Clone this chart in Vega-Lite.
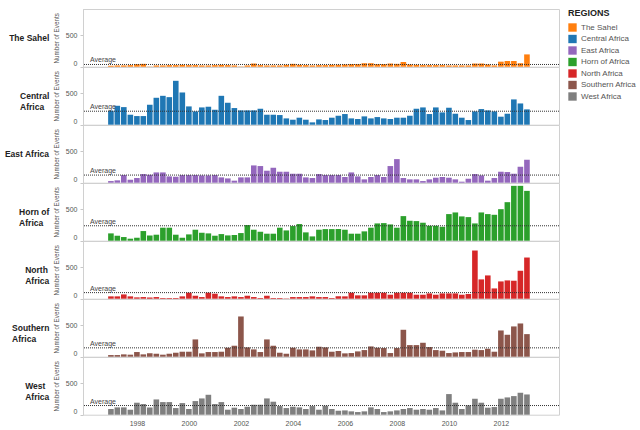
{
  "$schema": "https://vega.github.io/schema/vega-lite/v6.json",
  "background": "white",
  "padding": {"left": 4, "top": 8, "right": 0, "bottom": 0},
  "bounds": "flush",
  "config": {
    "font": "Liberation Sans",
    "view": {"stroke": "#d0d0d0"},
    "header": {"labelLineHeight": 11}
  },
  "data": {
    "values": [
      {"region":"The Sahel","quarter":"1997-01-01","events":15},{"region":"The Sahel","quarter":"1997-04-01","events":20},{"region":"The Sahel","quarter":"1997-07-01","events":20},{"region":"The Sahel","quarter":"1997-10-01","events":25},
      {"region":"The Sahel","quarter":"1998-01-01","events":40},{"region":"The Sahel","quarter":"1998-04-01","events":45},{"region":"The Sahel","quarter":"1998-07-01","events":5},{"region":"The Sahel","quarter":"1998-10-01","events":20},
      {"region":"The Sahel","quarter":"1999-01-01","events":20},{"region":"The Sahel","quarter":"1999-04-01","events":25},{"region":"The Sahel","quarter":"1999-07-01","events":25},{"region":"The Sahel","quarter":"1999-10-01","events":30},
      {"region":"The Sahel","quarter":"2000-01-01","events":25},{"region":"The Sahel","quarter":"2000-04-01","events":25},{"region":"The Sahel","quarter":"2000-07-01","events":20},{"region":"The Sahel","quarter":"2000-10-01","events":20},
      {"region":"The Sahel","quarter":"2001-01-01","events":25},{"region":"The Sahel","quarter":"2001-04-01","events":30},{"region":"The Sahel","quarter":"2001-07-01","events":25},{"region":"The Sahel","quarter":"2001-10-01","events":20},
      {"region":"The Sahel","quarter":"2002-01-01","events":5},{"region":"The Sahel","quarter":"2002-04-01","events":20},{"region":"The Sahel","quarter":"2002-07-01","events":50},{"region":"The Sahel","quarter":"2002-10-01","events":25},
      {"region":"The Sahel","quarter":"2003-01-01","events":20},{"region":"The Sahel","quarter":"2003-04-01","events":20},{"region":"The Sahel","quarter":"2003-07-01","events":20},{"region":"The Sahel","quarter":"2003-10-01","events":30},
      {"region":"The Sahel","quarter":"2004-01-01","events":45},{"region":"The Sahel","quarter":"2004-04-01","events":30},{"region":"The Sahel","quarter":"2004-07-01","events":25},{"region":"The Sahel","quarter":"2004-10-01","events":20},
      {"region":"The Sahel","quarter":"2005-01-01","events":25},{"region":"The Sahel","quarter":"2005-04-01","events":25},{"region":"The Sahel","quarter":"2005-07-01","events":30},{"region":"The Sahel","quarter":"2005-10-01","events":30},
      {"region":"The Sahel","quarter":"2006-01-01","events":35},{"region":"The Sahel","quarter":"2006-04-01","events":40},{"region":"The Sahel","quarter":"2006-07-01","events":40},{"region":"The Sahel","quarter":"2006-10-01","events":55},
      {"region":"The Sahel","quarter":"2007-01-01","events":55},{"region":"The Sahel","quarter":"2007-04-01","events":40},{"region":"The Sahel","quarter":"2007-07-01","events":40},{"region":"The Sahel","quarter":"2007-10-01","events":50},
      {"region":"The Sahel","quarter":"2008-01-01","events":45},{"region":"The Sahel","quarter":"2008-04-01","events":75},{"region":"The Sahel","quarter":"2008-07-01","events":35},{"region":"The Sahel","quarter":"2008-10-01","events":30},
      {"region":"The Sahel","quarter":"2009-01-01","events":25},{"region":"The Sahel","quarter":"2009-04-01","events":25},{"region":"The Sahel","quarter":"2009-07-01","events":25},{"region":"The Sahel","quarter":"2009-10-01","events":25},
      {"region":"The Sahel","quarter":"2010-01-01","events":20},{"region":"The Sahel","quarter":"2010-04-01","events":20},{"region":"The Sahel","quarter":"2010-07-01","events":20},{"region":"The Sahel","quarter":"2010-10-01","events":20},
      {"region":"The Sahel","quarter":"2011-01-01","events":50},{"region":"The Sahel","quarter":"2011-04-01","events":50},{"region":"The Sahel","quarter":"2011-07-01","events":35},{"region":"The Sahel","quarter":"2011-10-01","events":20},
      {"region":"The Sahel","quarter":"2012-01-01","events":80},{"region":"The Sahel","quarter":"2012-04-01","events":90},{"region":"The Sahel","quarter":"2012-07-01","events":90},{"region":"The Sahel","quarter":"2012-10-01","events":55},
      {"region":"The Sahel","quarter":"2013-01-01","events":195},

      {"region":"Central Africa","quarter":"1997-01-01","events":221},{"region":"Central Africa","quarter":"1997-04-01","events":300},{"region":"Central Africa","quarter":"1997-07-01","events":279},{"region":"Central Africa","quarter":"1997-10-01","events":158},
      {"region":"Central Africa","quarter":"1998-01-01","events":137},{"region":"Central Africa","quarter":"1998-04-01","events":137},{"region":"Central Africa","quarter":"1998-07-01","events":316},{"region":"Central Africa","quarter":"1998-10-01","events":427},
      {"region":"Central Africa","quarter":"1999-01-01","events":458},{"region":"Central Africa","quarter":"1999-04-01","events":437},{"region":"Central Africa","quarter":"1999-07-01","events":696},{"region":"Central Africa","quarter":"1999-10-01","events":511},
      {"region":"Central Africa","quarter":"2000-01-01","events":290},{"region":"Central Africa","quarter":"2000-04-01","events":211},{"region":"Central Africa","quarter":"2000-07-01","events":274},{"region":"Central Africa","quarter":"2000-10-01","events":285},
      {"region":"Central Africa","quarter":"2001-01-01","events":237},{"region":"Central Africa","quarter":"2001-04-01","events":458},{"region":"Central Africa","quarter":"2001-07-01","events":348},{"region":"Central Africa","quarter":"2001-10-01","events":264},
      {"region":"Central Africa","quarter":"2002-01-01","events":227},{"region":"Central Africa","quarter":"2002-04-01","events":227},{"region":"Central Africa","quarter":"2002-07-01","events":227},{"region":"Central Africa","quarter":"2002-10-01","events":253},
      {"region":"Central Africa","quarter":"2003-01-01","events":158},{"region":"Central Africa","quarter":"2003-04-01","events":158},{"region":"Central Africa","quarter":"2003-07-01","events":153},{"region":"Central Africa","quarter":"2003-10-01","events":100},
      {"region":"Central Africa","quarter":"2004-01-01","events":79},{"region":"Central Africa","quarter":"2004-04-01","events":111},{"region":"Central Africa","quarter":"2004-07-01","events":79},{"region":"Central Africa","quarter":"2004-10-01","events":37},
      {"region":"Central Africa","quarter":"2005-01-01","events":84},{"region":"Central Africa","quarter":"2005-04-01","events":74},{"region":"Central Africa","quarter":"2005-07-01","events":111},{"region":"Central Africa","quarter":"2005-10-01","events":142},
      {"region":"Central Africa","quarter":"2006-01-01","events":169},{"region":"Central Africa","quarter":"2006-04-01","events":100},{"region":"Central Africa","quarter":"2006-07-01","events":90},{"region":"Central Africa","quarter":"2006-10-01","events":132},
      {"region":"Central Africa","quarter":"2007-01-01","events":100},{"region":"Central Africa","quarter":"2007-04-01","events":121},{"region":"Central Africa","quarter":"2007-07-01","events":100},{"region":"Central Africa","quarter":"2007-10-01","events":90},
      {"region":"Central Africa","quarter":"2008-01-01","events":111},{"region":"Central Africa","quarter":"2008-04-01","events":111},{"region":"Central Africa","quarter":"2008-07-01","events":142},{"region":"Central Africa","quarter":"2008-10-01","events":253},
      {"region":"Central Africa","quarter":"2009-01-01","events":274},{"region":"Central Africa","quarter":"2009-04-01","events":169},{"region":"Central Africa","quarter":"2009-07-01","events":274},{"region":"Central Africa","quarter":"2009-10-01","events":195},
      {"region":"Central Africa","quarter":"2010-01-01","events":269},{"region":"Central Africa","quarter":"2010-04-01","events":174},{"region":"Central Africa","quarter":"2010-07-01","events":111},{"region":"Central Africa","quarter":"2010-10-01","events":74},
      {"region":"Central Africa","quarter":"2011-01-01","events":211},{"region":"Central Africa","quarter":"2011-04-01","events":248},{"region":"Central Africa","quarter":"2011-07-01","events":227},{"region":"Central Africa","quarter":"2011-10-01","events":211},
      {"region":"Central Africa","quarter":"2012-01-01","events":127},{"region":"Central Africa","quarter":"2012-04-01","events":174},{"region":"Central Africa","quarter":"2012-07-01","events":401},{"region":"Central Africa","quarter":"2012-10-01","events":337},
      {"region":"Central Africa","quarter":"2013-01-01","events":243},

      {"region":"East Africa","quarter":"1997-01-01","events":26},{"region":"East Africa","quarter":"1997-04-01","events":37},{"region":"East Africa","quarter":"1997-07-01","events":121},{"region":"East Africa","quarter":"1997-10-01","events":47},
      {"region":"East Africa","quarter":"1998-01-01","events":74},{"region":"East Africa","quarter":"1998-04-01","events":137},{"region":"East Africa","quarter":"1998-07-01","events":126},{"region":"East Africa","quarter":"1998-10-01","events":163},
      {"region":"East Africa","quarter":"1999-01-01","events":163},{"region":"East Africa","quarter":"1999-04-01","events":100},{"region":"East Africa","quarter":"1999-07-01","events":95},{"region":"East Africa","quarter":"1999-10-01","events":121},
      {"region":"East Africa","quarter":"2000-01-01","events":121},{"region":"East Africa","quarter":"2000-04-01","events":121},{"region":"East Africa","quarter":"2000-07-01","events":116},{"region":"East Africa","quarter":"2000-10-01","events":116},
      {"region":"East Africa","quarter":"2001-01-01","events":121},{"region":"East Africa","quarter":"2001-04-01","events":84},{"region":"East Africa","quarter":"2001-07-01","events":68},{"region":"East Africa","quarter":"2001-10-01","events":32},
      {"region":"East Africa","quarter":"2002-01-01","events":84},{"region":"East Africa","quarter":"2002-04-01","events":84},{"region":"East Africa","quarter":"2002-07-01","events":274},{"region":"East Africa","quarter":"2002-10-01","events":264},
      {"region":"East Africa","quarter":"2003-01-01","events":190},{"region":"East Africa","quarter":"2003-04-01","events":237},{"region":"East Africa","quarter":"2003-07-01","events":174},{"region":"East Africa","quarter":"2003-10-01","events":174},
      {"region":"East Africa","quarter":"2004-01-01","events":142},{"region":"East Africa","quarter":"2004-04-01","events":142},{"region":"East Africa","quarter":"2004-07-01","events":84},{"region":"East Africa","quarter":"2004-10-01","events":74},
      {"region":"East Africa","quarter":"2005-01-01","events":137},{"region":"East Africa","quarter":"2005-04-01","events":121},{"region":"East Africa","quarter":"2005-07-01","events":121},{"region":"East Africa","quarter":"2005-10-01","events":121},
      {"region":"East Africa","quarter":"2006-01-01","events":90},{"region":"East Africa","quarter":"2006-04-01","events":163},{"region":"East Africa","quarter":"2006-07-01","events":100},{"region":"East Africa","quarter":"2006-10-01","events":53},
      {"region":"East Africa","quarter":"2007-01-01","events":90},{"region":"East Africa","quarter":"2007-04-01","events":121},{"region":"East Africa","quarter":"2007-07-01","events":90},{"region":"East Africa","quarter":"2007-10-01","events":264},
      {"region":"East Africa","quarter":"2008-01-01","events":374},{"region":"East Africa","quarter":"2008-04-01","events":74},{"region":"East Africa","quarter":"2008-07-01","events":53},{"region":"East Africa","quarter":"2008-10-01","events":53},
      {"region":"East Africa","quarter":"2009-01-01","events":26},{"region":"East Africa","quarter":"2009-04-01","events":53},{"region":"East Africa","quarter":"2009-07-01","events":79},{"region":"East Africa","quarter":"2009-10-01","events":90},
      {"region":"East Africa","quarter":"2010-01-01","events":79},{"region":"East Africa","quarter":"2010-04-01","events":53},{"region":"East Africa","quarter":"2010-07-01","events":16},{"region":"East Africa","quarter":"2010-10-01","events":63},
      {"region":"East Africa","quarter":"2011-01-01","events":137},{"region":"East Africa","quarter":"2011-04-01","events":116},{"region":"East Africa","quarter":"2011-07-01","events":32},{"region":"East Africa","quarter":"2011-10-01","events":74},
      {"region":"East Africa","quarter":"2012-01-01","events":174},{"region":"East Africa","quarter":"2012-04-01","events":169},{"region":"East Africa","quarter":"2012-07-01","events":142},{"region":"East Africa","quarter":"2012-10-01","events":253},
      {"region":"East Africa","quarter":"2013-01-01","events":364},

      {"region":"Horn of Africa","quarter":"1997-01-01","events":116},{"region":"Horn of Africa","quarter":"1997-04-01","events":79},{"region":"Horn of Africa","quarter":"1997-07-01","events":58},{"region":"Horn of Africa","quarter":"1997-10-01","events":32},
      {"region":"Horn of Africa","quarter":"1998-01-01","events":47},{"region":"Horn of Africa","quarter":"1998-04-01","events":153},{"region":"Horn of Africa","quarter":"1998-07-01","events":84},{"region":"Horn of Africa","quarter":"1998-10-01","events":95},
      {"region":"Horn of Africa","quarter":"1999-01-01","events":206},{"region":"Horn of Africa","quarter":"1999-04-01","events":206},{"region":"Horn of Africa","quarter":"1999-07-01","events":95},{"region":"Horn of Africa","quarter":"1999-10-01","events":47},
      {"region":"Horn of Africa","quarter":"2000-01-01","events":100},{"region":"Horn of Africa","quarter":"2000-04-01","events":174},{"region":"Horn of Africa","quarter":"2000-07-01","events":126},{"region":"Horn of Africa","quarter":"2000-10-01","events":116},
      {"region":"Horn of Africa","quarter":"2001-01-01","events":79},{"region":"Horn of Africa","quarter":"2001-04-01","events":105},{"region":"Horn of Africa","quarter":"2001-07-01","events":84},{"region":"Horn of Africa","quarter":"2001-10-01","events":90},
      {"region":"Horn of Africa","quarter":"2002-01-01","events":121},{"region":"Horn of Africa","quarter":"2002-04-01","events":248},{"region":"Horn of Africa","quarter":"2002-07-01","events":174},{"region":"Horn of Africa","quarter":"2002-10-01","events":142},
      {"region":"Horn of Africa","quarter":"2003-01-01","events":111},{"region":"Horn of Africa","quarter":"2003-04-01","events":111},{"region":"Horn of Africa","quarter":"2003-07-01","events":206},{"region":"Horn of Africa","quarter":"2003-10-01","events":163},
      {"region":"Horn of Africa","quarter":"2004-01-01","events":232},{"region":"Horn of Africa","quarter":"2004-04-01","events":264},{"region":"Horn of Africa","quarter":"2004-07-01","events":132},{"region":"Horn of Africa","quarter":"2004-10-01","events":68},
      {"region":"Horn of Africa","quarter":"2005-01-01","events":174},{"region":"Horn of Africa","quarter":"2005-04-01","events":184},{"region":"Horn of Africa","quarter":"2005-07-01","events":184},{"region":"Horn of Africa","quarter":"2005-10-01","events":184},
      {"region":"Horn of Africa","quarter":"2006-01-01","events":174},{"region":"Horn of Africa","quarter":"2006-04-01","events":111},{"region":"Horn of Africa","quarter":"2006-07-01","events":111},{"region":"Horn of Africa","quarter":"2006-10-01","events":148},
      {"region":"Horn of Africa","quarter":"2007-01-01","events":206},{"region":"Horn of Africa","quarter":"2007-04-01","events":274},{"region":"Horn of Africa","quarter":"2007-07-01","events":279},{"region":"Horn of Africa","quarter":"2007-10-01","events":258},
      {"region":"Horn of Africa","quarter":"2008-01-01","events":206},{"region":"Horn of Africa","quarter":"2008-04-01","events":390},{"region":"Horn of Africa","quarter":"2008-07-01","events":316},{"region":"Horn of Africa","quarter":"2008-10-01","events":311},
      {"region":"Horn of Africa","quarter":"2009-01-01","events":285},{"region":"Horn of Africa","quarter":"2009-04-01","events":237},{"region":"Horn of Africa","quarter":"2009-07-01","events":237},{"region":"Horn of Africa","quarter":"2009-10-01","events":221},
      {"region":"Horn of Africa","quarter":"2010-01-01","events":422},{"region":"Horn of Africa","quarter":"2010-04-01","events":448},{"region":"Horn of Africa","quarter":"2010-07-01","events":385},{"region":"Horn of Africa","quarter":"2010-10-01","events":374},
      {"region":"Horn of Africa","quarter":"2011-01-01","events":274},{"region":"Horn of Africa","quarter":"2011-04-01","events":448},{"region":"Horn of Africa","quarter":"2011-07-01","events":422},{"region":"Horn of Africa","quarter":"2011-10-01","events":411},
      {"region":"Horn of Africa","quarter":"2012-01-01","events":500},{"region":"Horn of Africa","quarter":"2012-04-01","events":611},{"region":"Horn of Africa","quarter":"2012-07-01","events":870},{"region":"Horn of Africa","quarter":"2012-10-01","events":870},
      {"region":"Horn of Africa","quarter":"2013-01-01","events":790},

      {"region":"North Africa","quarter":"1997-01-01","events":37},{"region":"North Africa","quarter":"1997-04-01","events":37},{"region":"North Africa","quarter":"1997-07-01","events":68},{"region":"North Africa","quarter":"1997-10-01","events":37},
      {"region":"North Africa","quarter":"1998-01-01","events":21},{"region":"North Africa","quarter":"1998-04-01","events":26},{"region":"North Africa","quarter":"1998-07-01","events":21},{"region":"North Africa","quarter":"1998-10-01","events":26},
      {"region":"North Africa","quarter":"1999-01-01","events":11},{"region":"North Africa","quarter":"1999-04-01","events":11},{"region":"North Africa","quarter":"1999-07-01","events":11},{"region":"North Africa","quarter":"1999-10-01","events":37},
      {"region":"North Africa","quarter":"2000-01-01","events":95},{"region":"North Africa","quarter":"2000-04-01","events":47},{"region":"North Africa","quarter":"2000-07-01","events":26},{"region":"North Africa","quarter":"2000-10-01","events":95},
      {"region":"North Africa","quarter":"2001-01-01","events":79},{"region":"North Africa","quarter":"2001-04-01","events":37},{"region":"North Africa","quarter":"2001-07-01","events":26},{"region":"North Africa","quarter":"2001-10-01","events":37},
      {"region":"North Africa","quarter":"2002-01-01","events":26},{"region":"North Africa","quarter":"2002-04-01","events":47},{"region":"North Africa","quarter":"2002-07-01","events":26},{"region":"North Africa","quarter":"2002-10-01","events":11},
      {"region":"North Africa","quarter":"2003-01-01","events":47},{"region":"North Africa","quarter":"2003-04-01","events":11},{"region":"North Africa","quarter":"2003-07-01","events":11},{"region":"North Africa","quarter":"2003-10-01","events":5},
      {"region":"North Africa","quarter":"2004-01-01","events":26},{"region":"North Africa","quarter":"2004-04-01","events":26},{"region":"North Africa","quarter":"2004-07-01","events":26},{"region":"North Africa","quarter":"2004-10-01","events":37},
      {"region":"North Africa","quarter":"2005-01-01","events":26},{"region":"North Africa","quarter":"2005-04-01","events":26},{"region":"North Africa","quarter":"2005-07-01","events":11},{"region":"North Africa","quarter":"2005-10-01","events":37},
      {"region":"North Africa","quarter":"2006-01-01","events":37},{"region":"North Africa","quarter":"2006-04-01","events":95},{"region":"North Africa","quarter":"2006-07-01","events":53},{"region":"North Africa","quarter":"2006-10-01","events":53},
      {"region":"North Africa","quarter":"2007-01-01","events":95},{"region":"North Africa","quarter":"2007-04-01","events":95},{"region":"North Africa","quarter":"2007-07-01","events":95},{"region":"North Africa","quarter":"2007-10-01","events":63},
      {"region":"North Africa","quarter":"2008-01-01","events":95},{"region":"North Africa","quarter":"2008-04-01","events":95},{"region":"North Africa","quarter":"2008-07-01","events":95},{"region":"North Africa","quarter":"2008-10-01","events":63},
      {"region":"North Africa","quarter":"2009-01-01","events":63},{"region":"North Africa","quarter":"2009-04-01","events":84},{"region":"North Africa","quarter":"2009-07-01","events":63},{"region":"North Africa","quarter":"2009-10-01","events":84},
      {"region":"North Africa","quarter":"2010-01-01","events":84},{"region":"North Africa","quarter":"2010-04-01","events":84},{"region":"North Africa","quarter":"2010-07-01","events":63},{"region":"North Africa","quarter":"2010-10-01","events":74},
      {"region":"North Africa","quarter":"2011-01-01","events":764},{"region":"North Africa","quarter":"2011-04-01","events":306},{"region":"North Africa","quarter":"2011-07-01","events":369},{"region":"North Africa","quarter":"2011-10-01","events":163},
      {"region":"North Africa","quarter":"2012-01-01","events":274},{"region":"North Africa","quarter":"2012-04-01","events":290},{"region":"North Africa","quarter":"2012-07-01","events":285},{"region":"North Africa","quarter":"2012-10-01","events":443},
      {"region":"North Africa","quarter":"2013-01-01","events":653},

      {"region":"Southern Africa","quarter":"1997-01-01","events":26},{"region":"Southern Africa","quarter":"1997-04-01","events":26},{"region":"Southern Africa","quarter":"1997-07-01","events":37},{"region":"Southern Africa","quarter":"1997-10-01","events":32},
      {"region":"Southern Africa","quarter":"1998-01-01","events":74},{"region":"Southern Africa","quarter":"1998-04-01","events":37},{"region":"Southern Africa","quarter":"1998-07-01","events":53},{"region":"Southern Africa","quarter":"1998-10-01","events":47},
      {"region":"Southern Africa","quarter":"1999-01-01","events":32},{"region":"Southern Africa","quarter":"1999-04-01","events":47},{"region":"Southern Africa","quarter":"1999-07-01","events":63},{"region":"Southern Africa","quarter":"1999-10-01","events":79},
      {"region":"Southern Africa","quarter":"2000-01-01","events":79},{"region":"Southern Africa","quarter":"2000-04-01","events":274},{"region":"Southern Africa","quarter":"2000-07-01","events":53},{"region":"Southern Africa","quarter":"2000-10-01","events":74},
      {"region":"Southern Africa","quarter":"2001-01-01","events":74},{"region":"Southern Africa","quarter":"2001-04-01","events":79},{"region":"Southern Africa","quarter":"2001-07-01","events":142},{"region":"Southern Africa","quarter":"2001-10-01","events":174},
      {"region":"Southern Africa","quarter":"2002-01-01","events":638},{"region":"Southern Africa","quarter":"2002-04-01","events":148},{"region":"Southern Africa","quarter":"2002-07-01","events":116},{"region":"Southern Africa","quarter":"2002-10-01","events":74},
      {"region":"Southern Africa","quarter":"2003-01-01","events":274},{"region":"Southern Africa","quarter":"2003-04-01","events":174},{"region":"Southern Africa","quarter":"2003-07-01","events":63},{"region":"Southern Africa","quarter":"2003-10-01","events":47},
      {"region":"Southern Africa","quarter":"2004-01-01","events":142},{"region":"Southern Africa","quarter":"2004-04-01","events":116},{"region":"Southern Africa","quarter":"2004-07-01","events":116},{"region":"Southern Africa","quarter":"2004-10-01","events":100},
      {"region":"Southern Africa","quarter":"2005-01-01","events":158},{"region":"Southern Africa","quarter":"2005-04-01","events":148},{"region":"Southern Africa","quarter":"2005-07-01","events":79},{"region":"Southern Africa","quarter":"2005-10-01","events":90},
      {"region":"Southern Africa","quarter":"2006-01-01","events":53},{"region":"Southern Africa","quarter":"2006-04-01","events":58},{"region":"Southern Africa","quarter":"2006-07-01","events":84},{"region":"Southern Africa","quarter":"2006-10-01","events":105},
      {"region":"Southern Africa","quarter":"2007-01-01","events":163},{"region":"Southern Africa","quarter":"2007-04-01","events":142},{"region":"Southern Africa","quarter":"2007-07-01","events":137},{"region":"Southern Africa","quarter":"2007-10-01","events":58},
      {"region":"Southern Africa","quarter":"2008-01-01","events":137},{"region":"Southern Africa","quarter":"2008-04-01","events":427},{"region":"Southern Africa","quarter":"2008-07-01","events":184},{"region":"Southern Africa","quarter":"2008-10-01","events":184},
      {"region":"Southern Africa","quarter":"2009-01-01","events":221},{"region":"Southern Africa","quarter":"2009-04-01","events":153},{"region":"Southern Africa","quarter":"2009-07-01","events":105},{"region":"Southern Africa","quarter":"2009-10-01","events":95},
      {"region":"Southern Africa","quarter":"2010-01-01","events":58},{"region":"Southern Africa","quarter":"2010-04-01","events":68},{"region":"Southern Africa","quarter":"2010-07-01","events":74},{"region":"Southern Africa","quarter":"2010-10-01","events":74},
      {"region":"Southern Africa","quarter":"2011-01-01","events":111},{"region":"Southern Africa","quarter":"2011-04-01","events":105},{"region":"Southern Africa","quarter":"2011-07-01","events":126},{"region":"Southern Africa","quarter":"2011-10-01","events":79},
      {"region":"Southern Africa","quarter":"2012-01-01","events":416},{"region":"Southern Africa","quarter":"2012-04-01","events":348},{"region":"Southern Africa","quarter":"2012-07-01","events":480},{"region":"Southern Africa","quarter":"2012-10-01","events":527},
      {"region":"Southern Africa","quarter":"2013-01-01","events":358},

      {"region":"West Africa","quarter":"1997-01-01","events":90},{"region":"West Africa","quarter":"1997-04-01","events":116},{"region":"West Africa","quarter":"1997-07-01","events":116},{"region":"West Africa","quarter":"1997-10-01","events":79},
      {"region":"West Africa","quarter":"1998-01-01","events":190},{"region":"West Africa","quarter":"1998-04-01","events":169},{"region":"West Africa","quarter":"1998-07-01","events":116},{"region":"West Africa","quarter":"1998-10-01","events":242},
      {"region":"West Africa","quarter":"1999-01-01","events":200},{"region":"West Africa","quarter":"1999-04-01","events":200},{"region":"West Africa","quarter":"1999-07-01","events":105},{"region":"West Africa","quarter":"1999-10-01","events":184},
      {"region":"West Africa","quarter":"2000-01-01","events":90},{"region":"West Africa","quarter":"2000-04-01","events":216},{"region":"West Africa","quarter":"2000-07-01","events":258},{"region":"West Africa","quarter":"2000-10-01","events":316},
      {"region":"West Africa","quarter":"2001-01-01","events":169},{"region":"West Africa","quarter":"2001-04-01","events":200},{"region":"West Africa","quarter":"2001-07-01","events":79},{"region":"West Africa","quarter":"2001-10-01","events":111},
      {"region":"West Africa","quarter":"2002-01-01","events":90},{"region":"West Africa","quarter":"2002-04-01","events":126},{"region":"West Africa","quarter":"2002-07-01","events":158},{"region":"West Africa","quarter":"2002-10-01","events":158},
      {"region":"West Africa","quarter":"2003-01-01","events":258},{"region":"West Africa","quarter":"2003-04-01","events":206},{"region":"West Africa","quarter":"2003-07-01","events":137},{"region":"West Africa","quarter":"2003-10-01","events":105},
      {"region":"West Africa","quarter":"2004-01-01","events":126},{"region":"West Africa","quarter":"2004-04-01","events":116},{"region":"West Africa","quarter":"2004-07-01","events":90},{"region":"West Africa","quarter":"2004-10-01","events":137},
      {"region":"West Africa","quarter":"2005-01-01","events":79},{"region":"West Africa","quarter":"2005-04-01","events":142},{"region":"West Africa","quarter":"2005-07-01","events":90},{"region":"West Africa","quarter":"2005-10-01","events":63},
      {"region":"West Africa","quarter":"2006-01-01","events":68},{"region":"West Africa","quarter":"2006-04-01","events":53},{"region":"West Africa","quarter":"2006-07-01","events":42},{"region":"West Africa","quarter":"2006-10-01","events":53},
      {"region":"West Africa","quarter":"2007-01-01","events":116},{"region":"West Africa","quarter":"2007-04-01","events":90},{"region":"West Africa","quarter":"2007-07-01","events":42},{"region":"West Africa","quarter":"2007-10-01","events":53},
      {"region":"West Africa","quarter":"2008-01-01","events":68},{"region":"West Africa","quarter":"2008-04-01","events":90},{"region":"West Africa","quarter":"2008-07-01","events":105},{"region":"West Africa","quarter":"2008-10-01","events":79},
      {"region":"West Africa","quarter":"2009-01-01","events":90},{"region":"West Africa","quarter":"2009-04-01","events":79},{"region":"West Africa","quarter":"2009-07-01","events":105},{"region":"West Africa","quarter":"2009-10-01","events":68},
      {"region":"West Africa","quarter":"2010-01-01","events":327},{"region":"West Africa","quarter":"2010-04-01","events":190},{"region":"West Africa","quarter":"2010-07-01","events":90},{"region":"West Africa","quarter":"2010-10-01","events":148},
      {"region":"West Africa","quarter":"2011-01-01","events":253},{"region":"West Africa","quarter":"2011-04-01","events":190},{"region":"West Africa","quarter":"2011-07-01","events":111},{"region":"West Africa","quarter":"2011-10-01","events":121},
      {"region":"West Africa","quarter":"2012-01-01","events":253},{"region":"West Africa","quarter":"2012-04-01","events":274},{"region":"West Africa","quarter":"2012-07-01","events":295},{"region":"West Africa","quarter":"2012-10-01","events":348},
      {"region":"West Africa","quarter":"2013-01-01","events":321}
    ]
  },
  "facet": {
    "row": {
      "field": "region",
      "type": "nominal",
      "sort": ["The Sahel", "Central Africa", "East Africa", "Horn of Africa", "North Africa", "Southern Africa", "West Africa"],
      "title": null,
      "header": {
        "labelAngle": 0,
        "labelOrient": "left",
        "labelAlign": "left",
        "labelBaseline": "middle",
        "labelFontWeight": "bold",
        "labelFontSize": 8.5,
        "labelColor": "#222222",
        "labelPadding": 4,
        "labelLimit": 0,
        "labelExpr": "datum.value == 'The Sahel' || datum.value == 'East Africa' ? datum.value : [replace(datum.value, ' Africa', ''), 'Africa']"
      }
    }
  },
  "spacing": {"row": 0},
  "spec": {
    "width": 476,
    "height": 57.7,
    "layer": [
      {
        "mark": {"type": "bar", "width": 5.6},
        "encoding": {
          "x": {
            "field": "quarter",
            "type": "temporal",
            "title": null,
            "scale": {
              "type": "utc",
              "domain": [
                {"year": 1996, "month": 2, "date": 14, "utc": true},
                {"year": 2014, "month": 1, "date": 16, "utc": true}
              ]
            },
            "axis": {
              "values": [
                {"year": 1998, "month": 1, "date": 1, "utc": true},
                {"year": 2000, "month": 1, "date": 1, "utc": true},
                {"year": 2002, "month": 1, "date": 1, "utc": true},
                {"year": 2004, "month": 1, "date": 1, "utc": true},
                {"year": 2006, "month": 1, "date": 1, "utc": true},
                {"year": 2008, "month": 1, "date": 1, "utc": true},
                {"year": 2010, "month": 1, "date": 1, "utc": true},
                {"year": 2012, "month": 1, "date": 1, "utc": true}
              ],
              "format": "%Y",
              "grid": false,
              "ticks": false,
              "domain": false,
              "labelFontSize": 7,
              "labelColor": "#555555",
              "labelPadding": 4
            }
          },
          "y": {
            "field": "events",
            "type": "quantitative",
            "title": "Number of Events",
            "scale": {"domain": [0, 915], "nice": false},
            "axis": {
              "values": [0, 500],
              "grid": false,
              "domainColor": "#b0b0b0",
              "tickColor": "#c8c8c8",
              "tickSize": 3,
              "labelFlush": true,
              "labelFontSize": 7,
              "labelColor": "#555555",
              "labelPadding": 3,
              "titleFontSize": 6.3,
              "titleFontWeight": "normal",
              "titleColor": "#555555",
              "titlePadding": 6
            }
          },
          "color": {
            "field": "region",
            "type": "nominal",
            "scale": {
              "domain": ["The Sahel", "Central Africa", "East Africa", "Horn of Africa", "North Africa", "Southern Africa", "West Africa"],
              "range": ["#ff7f0e", "#1f77b4", "#9467bd", "#2ca02c", "#d62728", "#8c564b", "#7f7f7f"]
            },
            "legend": {
              "title": "REGIONS",
              "titleFontSize": 9,
              "titleFontWeight": "bold",
              "titleColor": "#222222",
              "labelFontSize": 8,
              "labelColor": "#555555",
              "symbolType": "square",
              "symbolSize": 70,
              "symbolStrokeWidth": 0,
              "rowPadding": 2.5,
              "offset": 8
            }
          }
        }
      },
      {
        "mark": {"type": "rule", "color": "#333333", "strokeDash": [1, 1], "strokeWidth": 1},
        "encoding": {
          "y": {"aggregate": "mean", "field": "events", "type": "quantitative"}
        }
      },
      {
        "mark": {"type": "text", "text": "Average", "align": "left", "baseline": "bottom", "dx": 2, "dy": -1, "fontSize": 7, "color": "#444444"},
        "encoding": {
          "x": {"datum": {"year": 1996, "month": 2, "date": 14, "utc": true}, "type": "temporal"},
          "y": {"aggregate": "mean", "field": "events", "type": "quantitative"}
        }
      }
    ]
  }
}
